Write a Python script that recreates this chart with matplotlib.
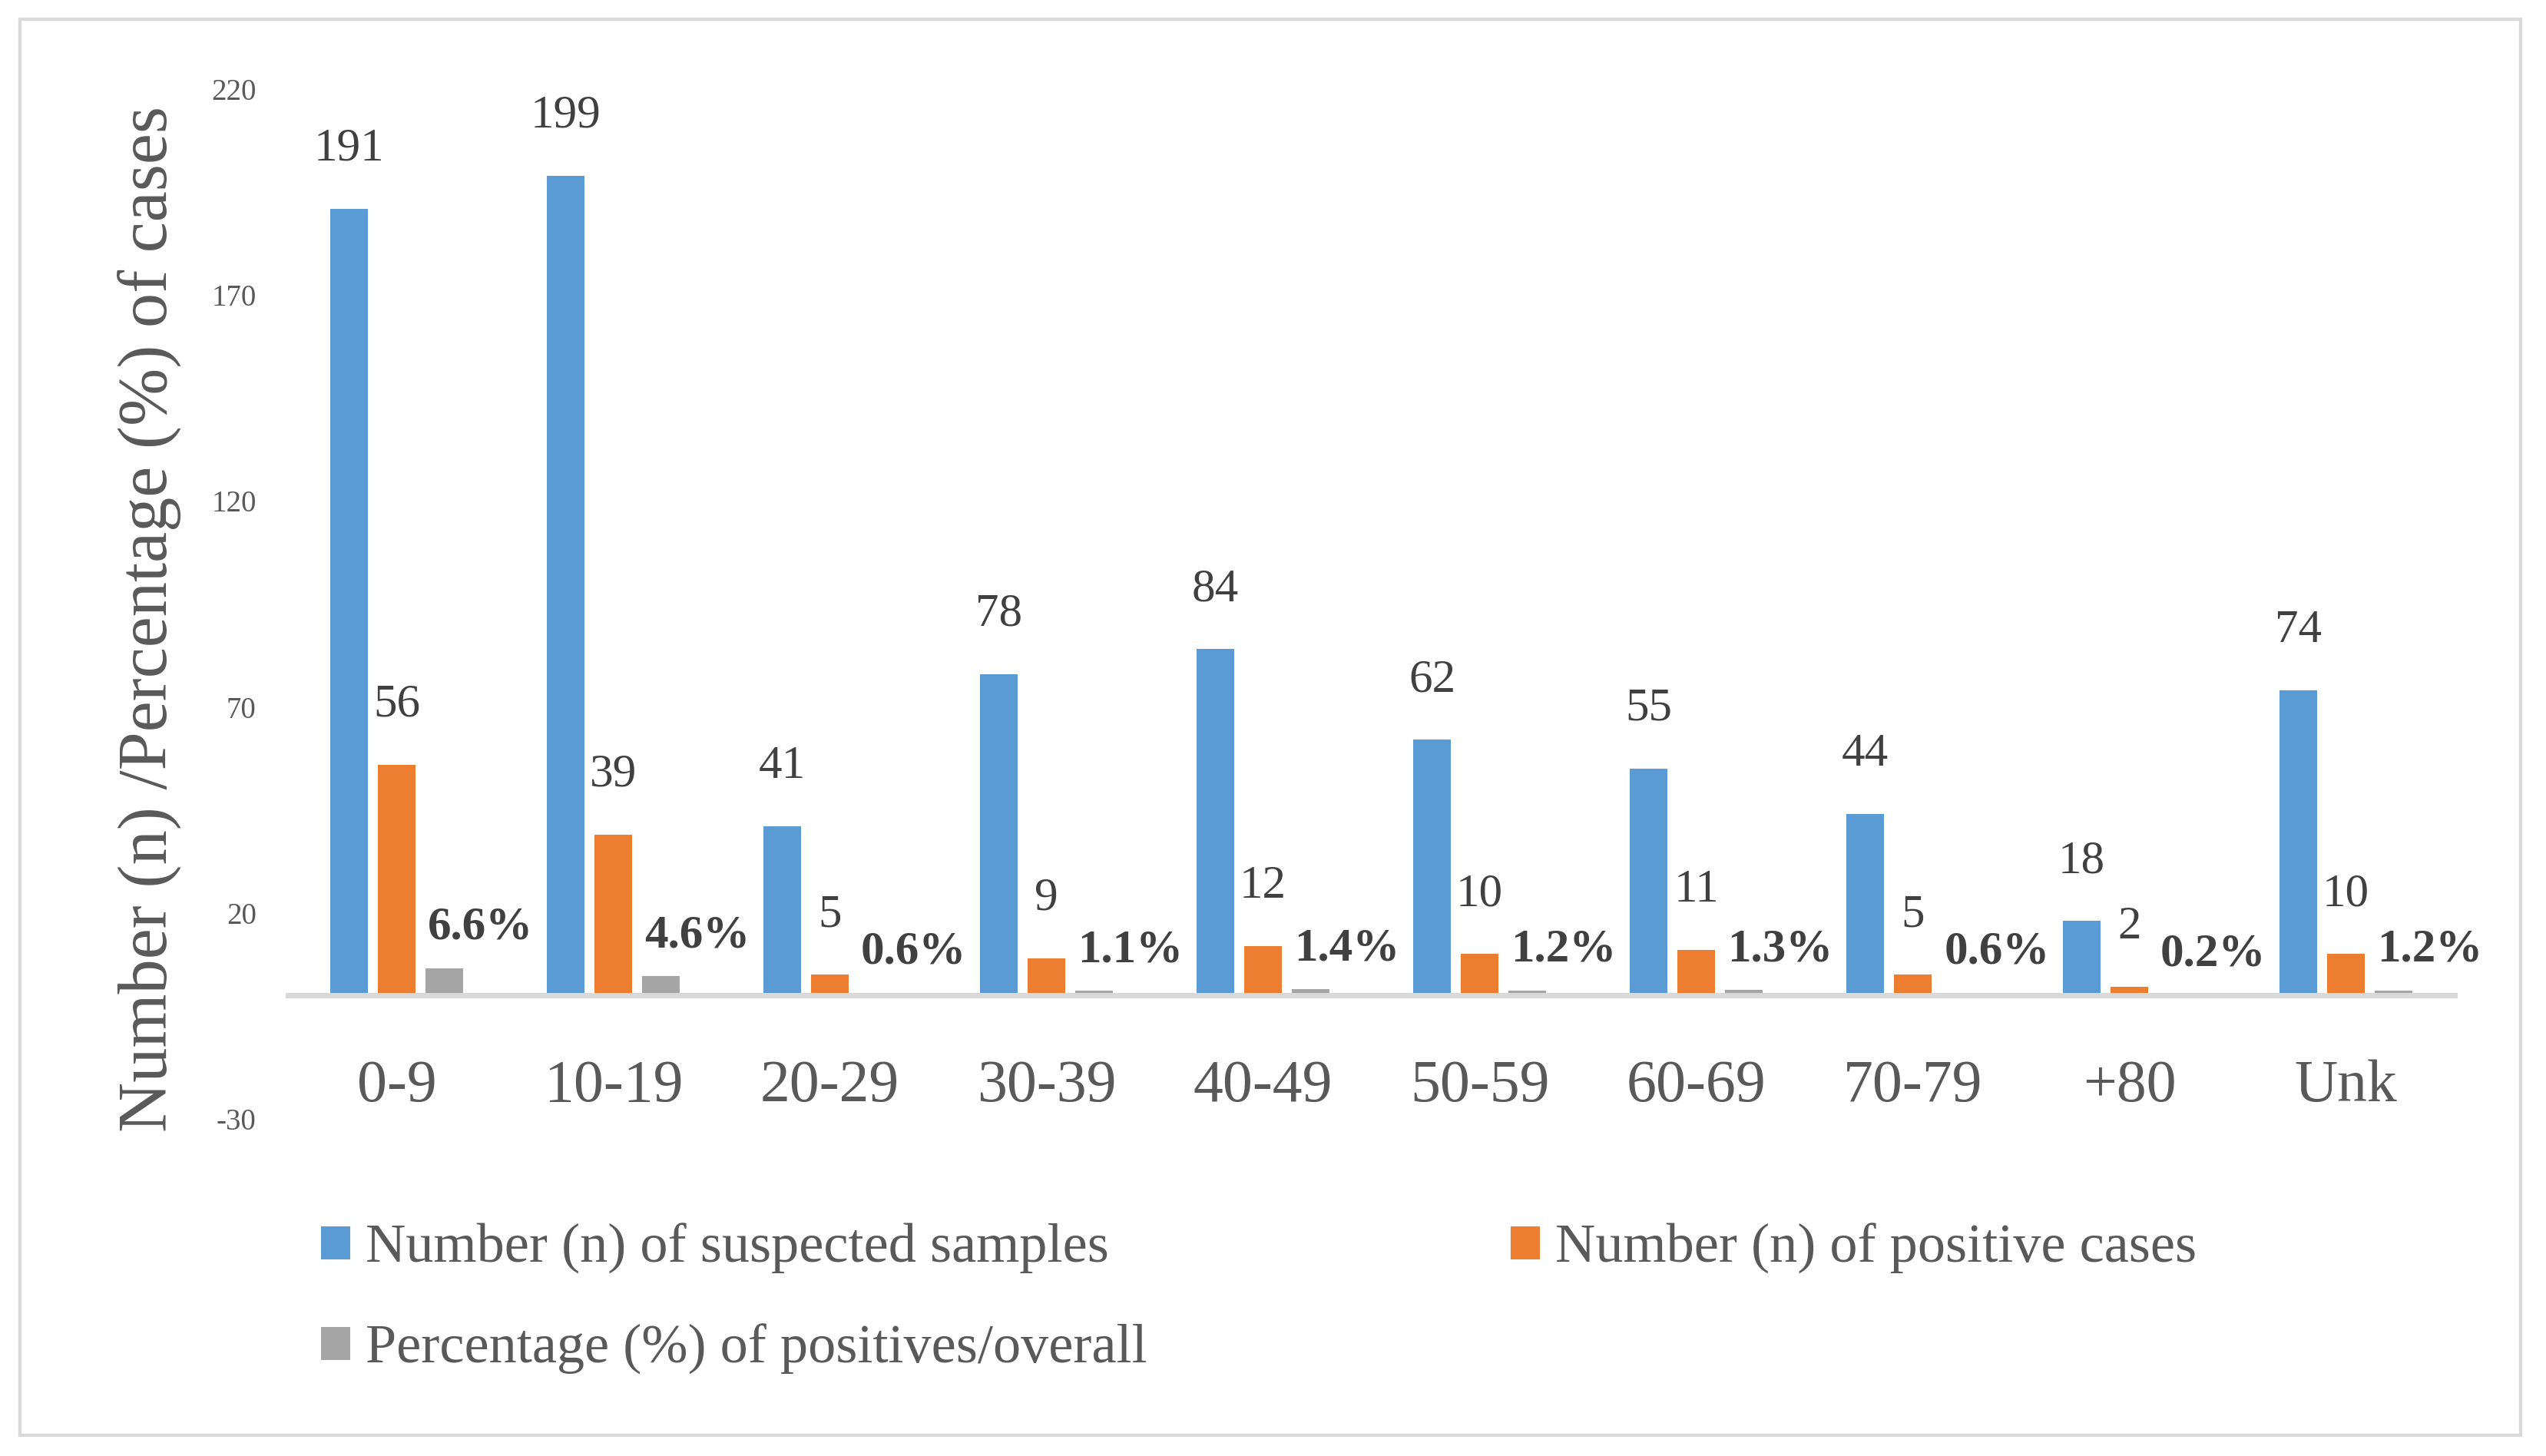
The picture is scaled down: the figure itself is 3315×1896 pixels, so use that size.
import numpy as np
import matplotlib
matplotlib.use("Agg")
import matplotlib.pyplot as plt
from matplotlib.patches import Rectangle

# Data
age_groups = ["0-9", "10-19", "20-29", "30-39", "40-49", "50-59", "60-69", "70-79", "+80", "Unk"]
suspected = [191, 199, 41, 78, 84, 62, 55, 44, 18, 74]
positives = [56, 39, 5, 9, 12, 10, 11, 5, 2, 10]
pct_positive = [6.6, 4.6, 0.6, 1.1, 1.4, 1.2, 1.3, 0.6, 0.2, 1.2]
y_ticks = [-30, 20, 70, 120, 170, 220]

blue = "#5B9BD5"
orange = "#ED7D31"
gray = "#A5A5A5"
text_gray = "#595959"
label_dark = "#404040"
line_gray = "#D9D9D9"

plt.rcParams["font.family"] = ["Liberation Serif", "DejaVu Serif"]

fig = plt.figure(figsize=(16.58, 9.48), dpi=200)
ax = fig.add_axes([0.1132, 0.2316, 0.9637 - 0.1132, 0.9388 - 0.2316])

x = np.arange(len(age_groups))
w = 0.173
step = 0.22

b1 = ax.bar(x - step, suspected, w, color=blue, label="Number (n) of suspected samples")
b2 = ax.bar(x, positives, w, color=orange, label="Number (n) of positive cases")
b3 = ax.bar(x + step, pct_positive, w, color=gray, label="Percentage (%) of positives/overall")

# value labels
for xi, v in zip(x - step, suspected):
    ax.annotate(str(v), (xi, v), xytext=(0, 28), textcoords="offset points",
                ha="center", va="center", fontsize=22, color=label_dark)
for xi, v in zip(x, positives):
    ax.annotate(str(v), (xi, v), xytext=(0, 28), textcoords="offset points",
                ha="center", va="center", fontsize=22, color=label_dark)
for xi, v in zip(x + step, pct_positive):
    ax.annotate(f"{v}%", (xi, v), xytext=(17, 19), textcoords="offset points",
                ha="center", va="center", fontsize=22, color=label_dark, fontweight="bold")

ax.set_xlim(-0.5, len(age_groups) - 0.5)
ax.set_ylim(-30, 220)
ax.tick_params(axis="both", length=0)
ax.tick_params(axis="y", pad=15, labelsize=14, labelcolor=text_gray)
ax.tick_params(axis="x", pad=30, labelsize=28, labelcolor=text_gray)
ax.set_yticks(y_ticks)
ax.set_yticklabels([str(t) for t in y_ticks])
ax.set_xticks(x)
ax.set_xticklabels(age_groups)

for s in ["top", "right", "left"]:
    ax.spines[s].set_visible(False)
ax.spines["bottom"].set_position(("data", 0))
ax.spines["bottom"].set_color(line_gray)
ax.spines["bottom"].set_linewidth(2.5)
ax.set_facecolor("none")

fig.text(0.0587, 0.575, "Number (n) /Percentage (%) of cases", rotation=90,
         ha="center", va="center", fontsize=32.5, color=text_gray)

leg = fig.legend([b1, b3, b2],
                 ["Number (n) of suspected samples", "Percentage (%) of positives/overall",
                  "Number (n) of positive cases"],
                 ncol=2, loc="upper left", bbox_to_anchor=(0.1065, 0.194),
                 frameon=False, fontsize=26, handlelength=0.53, handleheight=0.53,
                 handletextpad=0.27, labelspacing=0.9, columnspacing=6.55, labelcolor=text_gray)

# outer border
fig.patches.append(Rectangle((0.0077, 0.0145), 0.9898 - 0.0077, 0.9866 - 0.0145,
                             transform=fig.transFigure, fill=False,
                             edgecolor=line_gray, linewidth=1.5))

fig.savefig("out.png", dpi=200)
